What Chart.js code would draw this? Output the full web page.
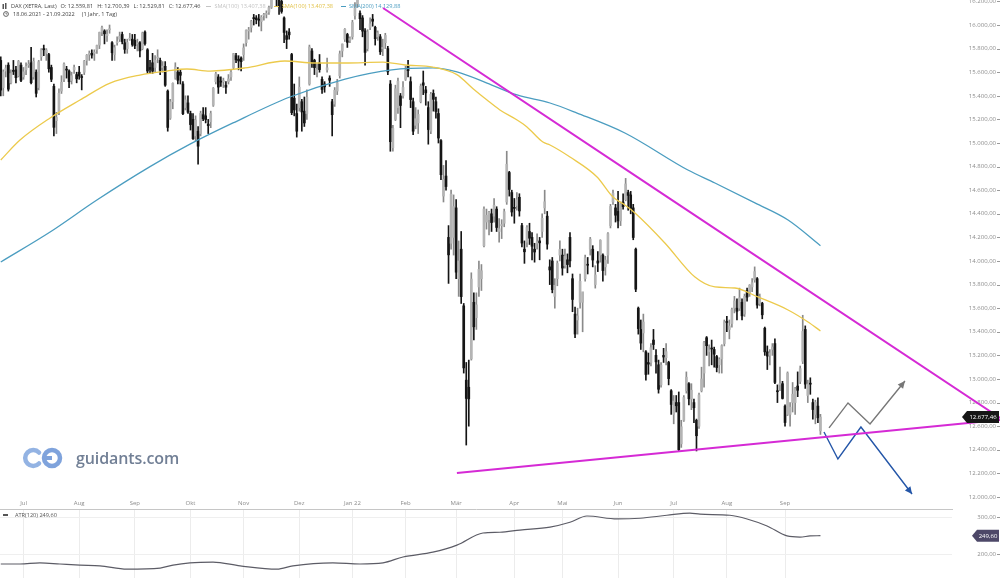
<!DOCTYPE html>
<html>
<head>
<meta charset="utf-8">
<script src="https://cdn.jsdelivr.net/npm/chart.js@4.4.1/dist/chart.umd.min.js"></script>
<style>
  body { margin: 0; background: #fff; font-family: 'Open Sans', sans-serif; }
  #wrap { position: relative; width: 1000px; height: 578px; overflow: hidden; background: #fff; }
  canvas { position: absolute; left: 0; }
  .row { position: absolute; display: flex; align-items: center; gap: 4px; font-size: 5.6px; line-height: 8px; color: #444; white-space: nowrap; }
  .mk { display: inline-block; width: 5px; height: 1.5px; vertical-align: middle; margin-right: 3px; }
  #logo { position: absolute; left: 22px; top: 445px; height: 26px; display: flex; align-items: center; }
  #logo span { font-size: 16px; font-weight: 600; color: #717f95; margin-left: 10px; letter-spacing: -0.1px; }
</style>
</head>
<body>
<div id="wrap">
  <canvas id="main" width="1000" height="509" style="top:0"></canvas>
  <canvas id="atr" width="1000" height="83" style="top:495px"></canvas>

  <div class="row" style="left:2px;top:2px">
    <svg width="5" height="7"><rect x="0.5" y="1" width="1.5" height="5" fill="#555"/><rect x="3" y="0" width="1.5" height="6" fill="#555"/></svg>
    <span>DAX (XETRA, Last)</span>
    <span id="hO"></span><span id="hH"></span><span id="hL"></span><span id="hC"></span>
    <span id="hS0" style="color:#c4c4c4;margin-left:2px"></span>
    <span id="hS1" style="color:#e2c24a;margin-left:4px"></span>
    <span id="hS2" style="color:#4a9cc0;margin-left:4px"></span>
  </div>
  <div class="row" style="left:3px;top:10px">
    <svg width="6" height="6"><circle cx="3" cy="3" r="2.4" fill="none" stroke="#555" stroke-width="0.9"/><path d="M3 1.6V3H4.2" fill="none" stroke="#555" stroke-width="0.7"/></svg>
    <span>18.06.2021 - 21.09.2022</span>
    <span style="margin-left:3px">(1 Jahr, 1 Tag)</span>
  </div>

  <div class="row" id="hAtr" style="left:3px;top:511px;color:#555"></div>

  <div id="logo">
    <svg width="44" height="24" viewBox="0 0 44 24">
      <path d="M17 6.5 A8 8 0 1 0 17 17.5" fill="none" stroke="#93b3e3" stroke-width="4.5" stroke-linecap="round"/>
      <circle cx="30" cy="12" r="8" fill="none" stroke="#7fa3dc" stroke-width="4.5"/>
      <path d="M22 12 H30" stroke="#7fa3dc" stroke-width="4"/>
    </svg>
    <span>guidants.com</span>
  </div>
</div>

<script>
// daily DAX bars 18.06.2021 - 21.09.2022, one line per month
const opens = [
  15700,15470,15610,15660,15510,15610,15620,15570,15660,
  15560,15620,15660,15680,15560,15600,15470,15730,15800,15760,15750,15640,15480,15190,15260,15440,15540,15620,15610,15530,15620,15580,
  15600,15560,15600,15700,15750,15760,15760,15790,15830,15940,15950,15910,15960,15850,15750,15850,15880,15920,15850,15800,15880,15880,
  15870,15840,15850,15800,15940,15790,15640,15680,15640,15720,15700,15640,15650,15440,15210,15350,15550,15600,15600,15500,15300,15340,
  15250,15200,15060,15100,15080,15240,15230,15160,15180,15320,15520,15560,15520,15520,15490,15520,15560,15640,15740,15710,15720,
  15750,15850,15950,15980,16060,16060,16050,16030,16080,16090,16110,16150,16260,16240,16220,16200,16060,15910,15940,15750,15380,15250,
  15300,15350,15270,15250,15500,15780,15700,15600,15680,15540,15500,15620,15550,15350,15330,15440,15570,15780,15880,15920,15870,
  15900,16080,16180,16100,16060,15950,15800,15980,16050,15980,15900,15900,15800,15850,15800,15500,14960,15200,15300,15400,15400,
  15540,15650,15520,15350,15150,15170,15350,15510,15450,15300,15100,15420,15350,15250,15020,14550,14720,14200,14150,14200,
  14450,13850,14100,13620,12990,12930,13170,13650,13520,13780,13850,14130,14330,14350,14400,14380,14440,14250,14300,14320,14500,14750,14580,
  14450,14470,14540,14300,14100,14160,14250,14200,14100,14150,14170,14250,14450,14380,13950,14000,13700,13850,14050,
  14050,13960,14010,14200,13850,13550,13500,13650,13650,13850,13970,14100,14100,13800,14000,14050,14050,13950,14050,14300,14500,14450,
  14420,14340,14500,14520,14580,14560,14450,14100,13600,13420,13390,13230,13140,13140,13330,13200,13120,12950,13200,13180,13140,12900,
  12700,12800,12800,12450,12650,12900,12960,12830,12800,12650,12600,12900,13050,13350,13230,13260,13250,13190,13120,13170,13300,
  13480,13420,13470,13600,13600,13600,13650,13550,13750,13730,13780,13840,13850,13640,13640,13430,13230,13200,13250,13300,12900,12950,12960,
  12770,12700,12700,12800,12800,12940,12980,13150,13420,12860,12960,12800,12700,12770,12559.81
];
const highs = [
  15730,15620,15660,15680,15620,15700,15650,15700,15680,
  15640,15680,15700,15810,15720,15620,15700,15800,15830,15800,15760,15660,15500,15260,15460,15570,15680,15650,15620,15600,15660,15600,
  15650,15580,15700,15750,15780,15790,15790,15830,15940,15990,15960,15960,16000,15860,15830,15900,15940,15940,15880,15880,15930,15920,
  15920,15880,15860,15940,15950,15800,15700,15760,15740,15790,15720,15690,15690,15450,15370,15510,15680,15640,15620,15520,15400,15400,
  15270,15250,15230,15140,15270,15300,15300,15200,15270,15470,15600,15580,15560,15550,15520,15580,15620,15760,15760,15740,15730,
  15840,15960,15980,16040,16090,16080,16090,16080,16100,16120,16160,16260,16290,16290,16250,16240,16070,15950,15970,15760,15500,15330,
  15560,15370,15390,15450,15830,15800,15710,15670,15750,15560,15520,15720,15570,15370,15470,15540,15780,15840,15970,15930,15900,
  16040,16190,16290,16120,16080,15970,15960,16060,16090,15990,15950,15920,15880,15930,15820,15530,15150,15490,15550,15420,15520,
  15650,15700,15560,15380,15300,15280,15500,15610,15480,15350,15430,15450,15390,15290,15030,14810,14850,14300,14600,14560,
  14520,14170,14250,13640,13140,13160,13900,13730,13730,14000,13970,14460,14440,14420,14440,14530,14460,14360,14350,14440,14930,14760,14600,
  14530,14580,14570,14320,14170,14300,14320,14240,14150,14230,14200,14400,14600,14420,14010,14030,13850,14000,14170,
  14100,14100,14060,14240,13890,13610,13600,13890,13730,14050,14030,14200,14130,13960,14080,14180,14060,14040,14240,14480,14600,14480,
  14590,14500,14570,14700,14600,14590,14480,14110,13610,13500,13550,13240,13220,13300,13420,13250,13160,13140,13260,13300,13150,12910,
  12860,12860,12890,12650,12860,13060,12970,12960,12830,12660,12880,13100,13320,13360,13290,13330,13270,13200,13180,13290,13500,
  13530,13500,13600,13700,13680,13770,13680,13720,13770,13800,13850,13950,13860,13720,13650,13440,13280,13250,13300,13340,12950,13100,12980,
  12780,13060,12800,12970,12930,13060,13110,13540,13450,12990,13010,12830,12820,12840,12700.39
];
const lows = [
  15400,15400,15560,15440,15500,15580,15510,15560,15520,
  15540,15580,15640,15500,15540,15390,15450,15700,15740,15700,15600,15520,15060,15080,15240,15420,15520,15550,15470,15500,15590,15510,
  15540,15450,15580,15660,15700,15720,15700,15760,15800,15910,15840,15860,15930,15700,15700,15830,15860,15840,15760,15760,15870,15820,
  15800,15780,15730,15790,15830,15590,15590,15590,15600,15680,15580,15600,15480,15100,15200,15290,15540,15500,15500,15240,15280,15250,
  15110,15030,15020,14820,15060,15190,15170,15080,15130,15310,15500,15420,15480,15470,15420,15500,15530,15630,15680,15620,15610,
  15700,15820,15880,15940,16000,16010,15990,15950,16040,16060,16090,16140,16220,16160,16090,16100,15850,15800,15880,15240,15230,15050,
  15270,15100,15140,15200,15490,15640,15580,15560,15600,15420,15430,15600,15480,15060,15310,15410,15550,15730,15860,15810,15850,
  15880,16050,16150,15960,15900,15660,15780,15960,15990,15830,15870,15750,15740,15800,15580,14930,14930,15190,15250,15130,15380,
  15530,15560,15300,15070,15120,15080,15340,15410,15320,14990,15080,15270,15210,15000,14690,14500,14600,13810,14100,14050,
  13850,13700,13640,13050,12440,12600,13160,13330,13420,13700,13750,14120,14270,14220,14250,14330,14250,14160,14190,14290,14480,14550,14380,
  14320,14430,14380,14120,13980,14120,14140,14010,13990,14100,14010,14200,14400,14100,13800,13730,13600,13790,14000,
  13880,13940,13900,13950,13570,13350,13380,13600,13400,13830,13890,14050,13950,13770,13910,13990,13830,13880,13980,14280,14480,14330,
  14280,14300,14440,14510,14430,14400,14180,13740,13380,13250,13230,12990,13040,13110,13250,13050,12880,12930,13140,13120,12950,12700,
  12620,12720,12390,12420,12640,12880,12780,12740,12630,12390,12580,12890,12930,13200,13110,13120,13100,13060,13050,13050,13280,
  13400,13340,13440,13560,13500,13580,13500,13530,13660,13700,13740,13820,13600,13620,13510,13200,13080,13120,13200,12960,12800,12900,12830,
  12600,12690,12600,12720,12700,12850,12960,13130,12920,12800,12870,12660,12620,12630,12529.81
];
const closes = [
  15448,15603,15636,15456,15589,15607,15554,15691,15531,
  15603,15650,15662,15511,15692,15421,15688,15790,15790,15788,15629,15540,15133,15216,15422,15515,15669,15618,15519,15570,15640,15544,
  15568,15555,15692,15744,15761,15745,15770,15826,15937,15977,15925,15922,15965,15765,15808,15852,15906,15860,15794,15852,15888,15835,
  15824,15840,15781,15932,15843,15610,15623,15609,15701,15722,15616,15652,15490,15132,15349,15506,15644,15532,15574,15249,15365,15261,
  15156,15036,15195,14973,15252,15206,15199,15147,15250,15463,15587,15474,15516,15523,15473,15543,15600,15757,15705,15696,15689,
  15806,15954,15959,16030,16054,16046,16040,16067,16083,16094,16148,16247,16251,16221,16160,16115,15937,15878,15917,15257,15280,15100,
  15473,15263,15170,15387,15814,15687,15639,15623,15622,15454,15476,15637,15532,15240,15447,15511,15756,15838,15964,15853,15885,
  16021,16152,16271,16053,15948,15768,15942,16010,16032,15884,15934,15773,15810,15912,15603,15011,15123,15460,15524,15318,15471,
  15619,15613,15368,15100,15206,15242,15482,15490,15425,15114,15412,15370,15267,15042,14731,14693,14631,14052,14567,14461,
  13905,14000,13698,13094,12835,12831,13847,13442,13628,13929,13917,14440,14388,14413,14326,14473,14284,14273,14306,14418,14820,14606,14415,
  14446,14518,14424,14152,14078,14284,14193,14125,14076,14164,14154,14362,14502,14143,13924,13757,13794,13979,14098,
  13940,14039,13970,14001,13674,13381,13535,13828,13739,14027,13964,14186,14008,13882,13982,14175,13919,14008,14231,14462,14575,14388,
  14340,14485,14460,14653,14556,14445,14199,13761,13427,13304,13483,13038,13126,13265,13292,13145,12913,13118,13186,13231,13003,12784,
  12813,12773,12401,12595,12843,13015,12832,12905,12756,12519,12864,13000,13308,13282,13247,13254,13210,13097,13166,13282,13484,
  13479,13449,13587,13662,13574,13688,13535,13700,13694,13795,13816,13910,13626,13697,13544,13230,13194,13221,13271,12971,12892,12961,12835,
  12631,13050,12761,12871,12916,12904,13088,13403,12956,12957,12956,12741,12803,12671,12677.46
];

// moving averages and ATR (bar index -> value)
const sma100Idx = [0,7.6,19.5,31.3,43.2,55,65.7,73.6,82.7,96.5,112.3,124.2,136.1,151.1,159.8,170.8,180.3,186.7,192.2,197.3,204.1,208,214.3,217.1,225,235.7,242,246.7,250.7,262.5,274.4,282.3,290.2,299.3,311.2,319.1,324];
const sma100Val = [14856,15025,15212,15364,15508,15576,15610,15627,15610,15636,15695,15678,15678,15686,15661,15644,15580,15460,15364,15280,15195,15136,15008,14983,14881,14712,14542,14475,14407,14153,13864,13780,13771,13695,13585,13483,13407.38];
const sma200Idx = [0,19.5,38,59,74.8,91.8,114.3,136.1,154.6,170.8,180.3,192.2,204.1,217.1,227.8,246.7,271.6,282.3,298.1,311.2,324];
const sma200Val = [13992,14246,14517,14800,14990,15170,15390,15542,15620,15636,15602,15508,15407,15339,15254,15085,14771,14661,14492,14347,14129.88];
const atrIdx = [0,7.6,15.5,23.4,31.3,39.2,49.9,63,68.1,74.8,83.9,94.6,109.2,115.5,131.3,142,151.1,159,170.8,180.3,190.6,197.3,205.2,217.1,225,231.7,243.6,252.7,263.3,272.4,276.4,288.2,295,302.9,310.8,315.9,319.9,324];
const atrVal = [173,173,176,173,170,168,159,162,170,176,178,168,159,168,176,173,176,192,205,224,257,259,265,273,286,303,295,297,305,311,308,305,295,276,249,246,249,249.6];

// drawn trend lines and projection arrows
const upperIdx = [151.1, 395];
const upperVal = [16144, 12669];
const lowerIdx = [180.3, 395];
const lowerVal = [12203, 12653];
const bullIdx = [327.4, 334.9, 343.6, 357.4];
const bullVal = [12585, 12797, 12619, 12983];
const bearIdx = [325.4, 330.9, 340.0, 360.2];
const bearVal = [12551, 12322, 12593, 12025];

const monthStarts = [9,31,53,75,96,118,139,160,180,203,222,244,266,287,310];
const monthLabels = ['Jul','Aug','Sep','Okt','Nov','Dez','Jan 22','Feb','Mär','Apr','Mai','Jun','Jul','Aug','Sep'];
const priceTicks = [12000,12200,12400,12600,12800,13000,13200,13400,13600,13800,14000,14200,14400,14600,14800,15000,15200,15400,15600,15800,16000,16200];
const atrTicks = [200, 300];

const X_MIN = -0.3, X_MAX = 376;
const FONT = { family: 'Open Sans', size: 6 };

function de(v) {
  const [a, b] = Math.abs(v).toFixed(2).split('.');
  return a.replace(/\B(?=(\d{3})+(?!\d))/g, '.') + ',' + b;
}
const pts = (xs, ys) => xs.map((x, i) => ({ x: x, y: ys[i] }));

const n = Math.min(opens.length, highs.length, lows.length, closes.length);
const wicks = [], bodies = [];
for (let i = 0; i < n; i++) {
  wicks.push({ x: i, y: [lows[i], highs[i]] });
  bodies.push({ x: i, y: [opens[i], closes[i]] });
}
const isUp = i => closes[i] >= opens[i];

// header texts
const last = n - 1;
document.getElementById('hO').textContent = 'O: ' + de(opens[last]);
document.getElementById('hH').textContent = 'H: ' + de(highs[last]);
document.getElementById('hL').textContent = 'L: ' + de(lows[last]);
document.getElementById('hC').textContent = 'C: ' + de(closes[last]);
function legendItem(id, color, text) {
  const el = document.getElementById(id);
  el.innerHTML = '<span class="mk" style="background:' + color + '"></span>' + text;
}
legendItem('hS0', '#c4c4c4', 'SMA(100) ' + de(sma100Val[sma100Val.length - 1]));
legendItem('hS1', '#e2c24a', 'SMA(100) ' + de(sma100Val[sma100Val.length - 1]));
legendItem('hS2', '#4a9cc0', 'SMA(200) ' + de(sma200Val[sma200Val.length - 1]));
legendItem('hAtr', '#555', 'ATR(120) ' + de(atrVal[atrVal.length - 1]));

const arrowHeads = {
  id: 'arrowHeads',
  afterDatasetsDraw(chart) {
    const ctx = chart.ctx;
    chart.data.datasets.forEach((ds, i) => {
      if (!ds.arrow) return;
      const p = chart.getDatasetMeta(i).data;
      const a = p[p.length - 2], b = p[p.length - 1];
      const ang = Math.atan2(b.y - a.y, b.x - a.x);
      ctx.save();
      ctx.fillStyle = ds.borderColor;
      ctx.beginPath();
      ctx.moveTo(b.x, b.y);
      ctx.lineTo(b.x - 8 * Math.cos(ang - 0.45), b.y - 8 * Math.sin(ang - 0.45));
      ctx.lineTo(b.x - 8 * Math.cos(ang + 0.45), b.y - 8 * Math.sin(ang + 0.45));
      ctx.closePath();
      ctx.fill();
      ctx.restore();
    });
  }
};

const tickDash = {
  id: 'tickDash',
  afterDraw(chart) {
    const ctx = chart.ctx, s = chart.scales.y;
    ctx.save();
    ctx.strokeStyle = '#9a9a9a';
    ctx.lineWidth = 1;
    s.ticks.forEach(t => {
      const y = Math.round(s.getPixelForValue(t.value)) + 0.5;
      ctx.beginPath(); ctx.moveTo(997, y); ctx.lineTo(1000, y); ctx.stroke();
    });
    ctx.restore();
  }
};

function valueTag(value, color, left) {
  return {
    id: 'valueTag',
    afterDraw(chart) {
      const ctx = chart.ctx;
      const y = chart.scales.y.getPixelForValue(value);
      ctx.save();
      ctx.fillStyle = color;
      ctx.beginPath();
      ctx.moveTo(left, y);
      ctx.lineTo(left + 5, y - 6);
      ctx.lineTo(999, y - 6);
      ctx.lineTo(999, y + 6);
      ctx.lineTo(left + 5, y + 6);
      ctx.closePath();
      ctx.fill();
      ctx.fillStyle = '#fff';
      ctx.font = "6px 'Open Sans'";
      ctx.textAlign = 'center';
      ctx.textBaseline = 'middle';
      ctx.fillText(de(value), (left + 5 + 999) / 2, y + 0.5);
      ctx.restore();
    }
  };
}

const lineBase = { type: 'line', pointRadius: 0, fill: false, cubicInterpolationMode: 'monotone' };

new Chart(document.getElementById('main'), {
  type: 'bar',
  data: {
    datasets: [
      { ...lineBase, data: pts(upperIdx, upperVal), borderColor: '#d52ad5', borderWidth: 2, clip: false, order: 0 },
      { ...lineBase, data: pts(lowerIdx, lowerVal), borderColor: '#d52ad5', borderWidth: 2, clip: false, order: 0 },
      { ...lineBase, data: pts(bullIdx, bullVal), borderColor: '#777777', borderWidth: 1.4, cubicInterpolationMode: 'default', tension: 0, arrow: true, order: 0 },
      { ...lineBase, data: pts(bearIdx, bearVal), borderColor: '#2456a8', borderWidth: 1.4, cubicInterpolationMode: 'default', tension: 0, arrow: true, order: 0 },
      { ...lineBase, data: pts(sma100Idx, sma100Val), borderColor: '#ecca4c', borderWidth: 1.3, order: 1 },
      { ...lineBase, data: pts(sma200Idx, sma200Val), borderColor: '#4b9dc0', borderWidth: 1.3, order: 1 },
      { data: bodies, barThickness: 2, minBarLength: 1, grouped: false, order: 2,
        backgroundColor: c => isUp(c.dataIndex) ? '#b4b4b4' : '#151515' },
      { data: wicks, barThickness: 1, grouped: false, order: 3,
        backgroundColor: c => isUp(c.dataIndex) ? '#8a8a8a' : '#151515' }
    ]
  },
  options: {
    responsive: false,
    animation: false,
    layout: { padding: { left: 0, right: 4, top: 0, bottom: 0 } },
    plugins: { legend: { display: false }, tooltip: { enabled: false } },
    scales: {
      x: { type: 'linear', min: X_MIN, max: X_MAX, display: false, offset: false },
      y: {
        position: 'right', min: 11898, max: 16212,
        grid: { display: false, drawTicks: false },
        border: { display: false },
        ticks: { font: FONT, color: '#8c8c8c', padding: 4, crossAlign: 'far', callback: v => de(v) },
        afterBuildTicks: s => { s.ticks = priceTicks.map(v => ({ value: v })); },
        afterFit: s => { s.width = 44; s.paddingTop = 0; s.paddingBottom = 0; }
      }
    }
  },
  plugins: [arrowHeads, tickDash, valueTag(closes[last], '#161616', 962)]
});

new Chart(document.getElementById('atr'), {
  type: 'line',
  data: {
    datasets: [
      { ...lineBase, data: pts(atrIdx, atrVal), borderColor: '#5c5c66', borderWidth: 1.2 }
    ]
  },
  options: {
    responsive: false,
    animation: false,
    layout: { padding: { left: 0, right: 4, top: 0, bottom: 0 } },
    plugins: { legend: { display: false }, tooltip: { enabled: false } },
    scales: {
      x: {
        type: 'linear', position: 'top', min: X_MIN, max: X_MAX, offset: false,
        grid: { color: '#ececec', drawTicks: false },
        border: { color: '#c6c6c6' },
        ticks: { font: FONT, color: '#8c8c8c', padding: 2, maxRotation: 0, autoSkip: false,
                 callback: (v, i) => monthLabels[i] },
        afterBuildTicks: s => { s.ticks = monthStarts.map(v => ({ value: v })); },
        afterFit: s => { s.height = 14; s.paddingLeft = 0; s.paddingRight = 0; }
      },
      y: {
        position: 'right', min: 135, max: 322,
        grid: { color: '#efefef', drawTicks: false },
        border: { display: false },
        ticks: { font: FONT, color: '#8c8c8c', padding: 4, crossAlign: 'far', callback: v => de(v) },
        afterBuildTicks: s => { s.ticks = atrTicks.map(v => ({ value: v })); },
        afterFit: s => { s.width = 44; s.paddingTop = 0; s.paddingBottom = 0; }
      }
    }
  },
  plugins: [tickDash, valueTag(atrVal[atrVal.length - 1], '#4d4868', 972)]
});
</script>
</body>
</html>
